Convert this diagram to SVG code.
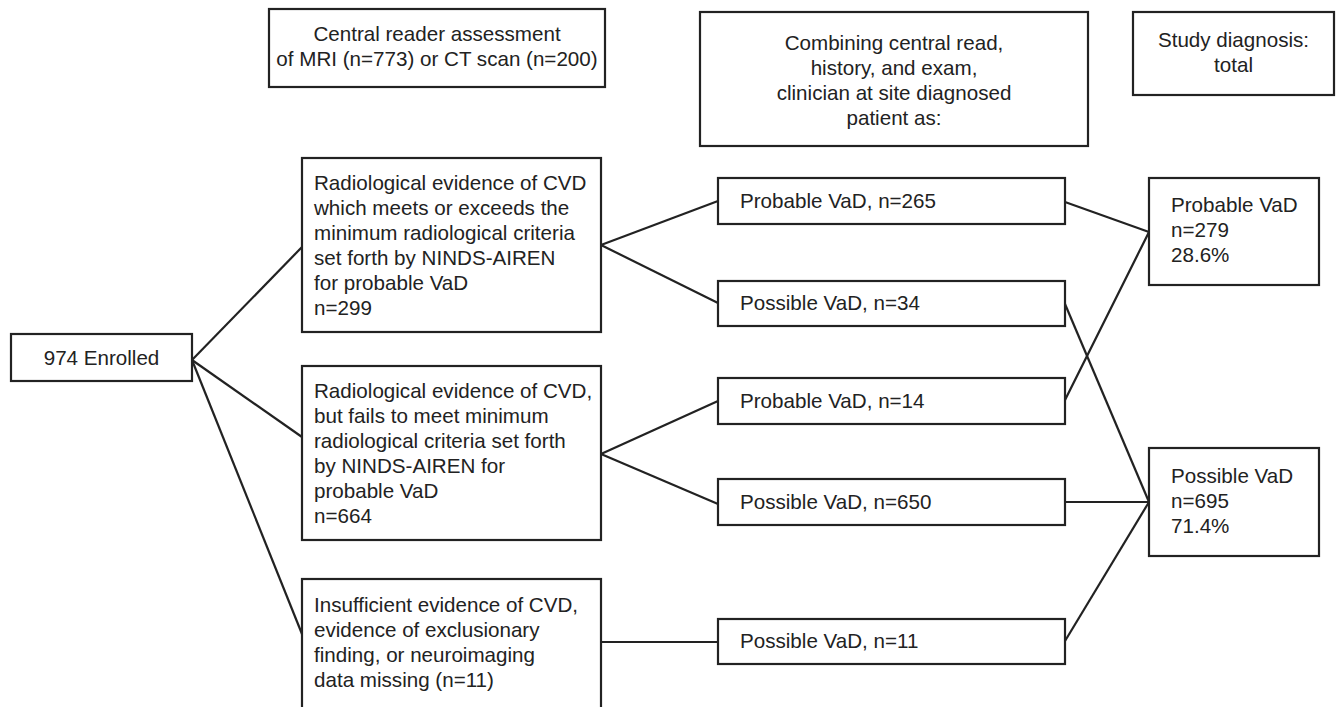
<svg xmlns="http://www.w3.org/2000/svg" width="1342" height="707" viewBox="0 0 1342 707">
<style>
rect{fill:#fff;stroke:#222;stroke-width:2.2}
text{font-family:"Liberation Sans",Arial,sans-serif;font-size:20.6px;fill:#222}
.c{text-anchor:middle}
#connectors line{stroke:#222;stroke-width:2.2;fill:none}
</style>
<rect x="0" y="0" width="1342" height="707" style="stroke:none"/>
<g id="connectors">
<line x1="192" y1="360" x2="302" y2="247"/>
<line x1="192" y1="360" x2="302" y2="437"/>
<line x1="192" y1="360" x2="302" y2="634"/>
<line x1="601" y1="245" x2="718" y2="201"/>
<line x1="601" y1="245" x2="718" y2="303"/>
<line x1="601" y1="454" x2="718" y2="401"/>
<line x1="601" y1="454" x2="718" y2="504"/>
<line x1="601" y1="642" x2="718" y2="642"/>
<line x1="1065" y1="202" x2="1149" y2="232"/>
<line x1="1065" y1="400" x2="1149" y2="232"/>
<line x1="1065" y1="304" x2="1149" y2="502"/>
<line x1="1065" y1="502" x2="1149" y2="502"/>
<line x1="1065" y1="641" x2="1149" y2="502"/>
</g>
<g id="hdr-central">
<rect x="269" y="9" width="336" height="78"/>
<text class="c" x="437" y="41">Central reader assessment</text>
<text class="c" x="437" y="66">of MRI (n=773) or CT scan (n=200)</text>
</g>
<g id="hdr-combining">
<rect x="700" y="12" width="388" height="134"/>
<text class="c" x="894" y="50">Combining central read,</text>
<text class="c" x="894" y="75">history, and exam,</text>
<text class="c" x="894" y="100">clinician at site diagnosed</text>
<text class="c" x="894" y="125">patient as:</text>
</g>
<g id="hdr-study">
<rect x="1133" y="12" width="201" height="83"/>
<text class="c" x="1233.5" y="47">Study diagnosis:</text>
<text class="c" x="1233.5" y="72">total</text>
</g>
<g id="enrolled">
<rect x="11" y="334" width="181" height="47"/>
<text class="c" x="101.5" y="365">974 Enrolled</text>
</g>
<g id="rad-meets">
<rect x="302" y="158" width="299" height="174"/>
<text x="314" y="190">Radiological evidence of CVD</text>
<text x="314" y="215">which meets or exceeds the</text>
<text x="314" y="240">minimum radiological criteria</text>
<text x="314" y="265">set forth by NINDS-AIREN</text>
<text x="314" y="290">for probable VaD</text>
<text x="314" y="315">n=299</text>
</g>
<g id="rad-fails">
<rect x="302" y="366" width="299" height="174"/>
<text x="314" y="398">Radiological evidence of CVD,</text>
<text x="314" y="423">but fails to meet minimum</text>
<text x="314" y="448">radiological criteria set forth</text>
<text x="314" y="473">by NINDS-AIREN for</text>
<text x="314" y="498">probable VaD</text>
<text x="314" y="523">n=664</text>
</g>
<g id="insufficient">
<rect x="302" y="579" width="299" height="140"/>
<text x="314" y="612">Insufficient evidence of CVD,</text>
<text x="314" y="637">evidence of exclusionary</text>
<text x="314" y="662">finding, or neuroimaging</text>
<text x="314" y="687">data missing (n=11)</text>
</g>
<g id="prob-265">
<rect x="718" y="178" width="347" height="46"/>
<text x="740" y="208">Probable VaD, n=265</text>
</g>
<g id="poss-34">
<rect x="718" y="281" width="347" height="45"/>
<text x="740" y="310">Possible VaD, n=34</text>
</g>
<g id="prob-14">
<rect x="718" y="378" width="347" height="46"/>
<text x="740" y="408">Probable VaD, n=14</text>
</g>
<g id="poss-650">
<rect x="718" y="479" width="347" height="46"/>
<text x="740" y="509">Possible VaD, n=650</text>
</g>
<g id="poss-11">
<rect x="718" y="619" width="347" height="45"/>
<text x="740" y="648">Possible VaD, n=11</text>
</g>
<g id="total-probable">
<rect x="1149" y="178" width="170" height="107"/>
<text x="1171" y="212">Probable VaD</text>
<text x="1171" y="237">n=279</text>
<text x="1171" y="262">28.6%</text>
</g>
<g id="total-possible">
<rect x="1149" y="448" width="170" height="108"/>
<text x="1171" y="483">Possible VaD</text>
<text x="1171" y="508">n=695</text>
<text x="1171" y="533">71.4%</text>
</g>
</svg>
